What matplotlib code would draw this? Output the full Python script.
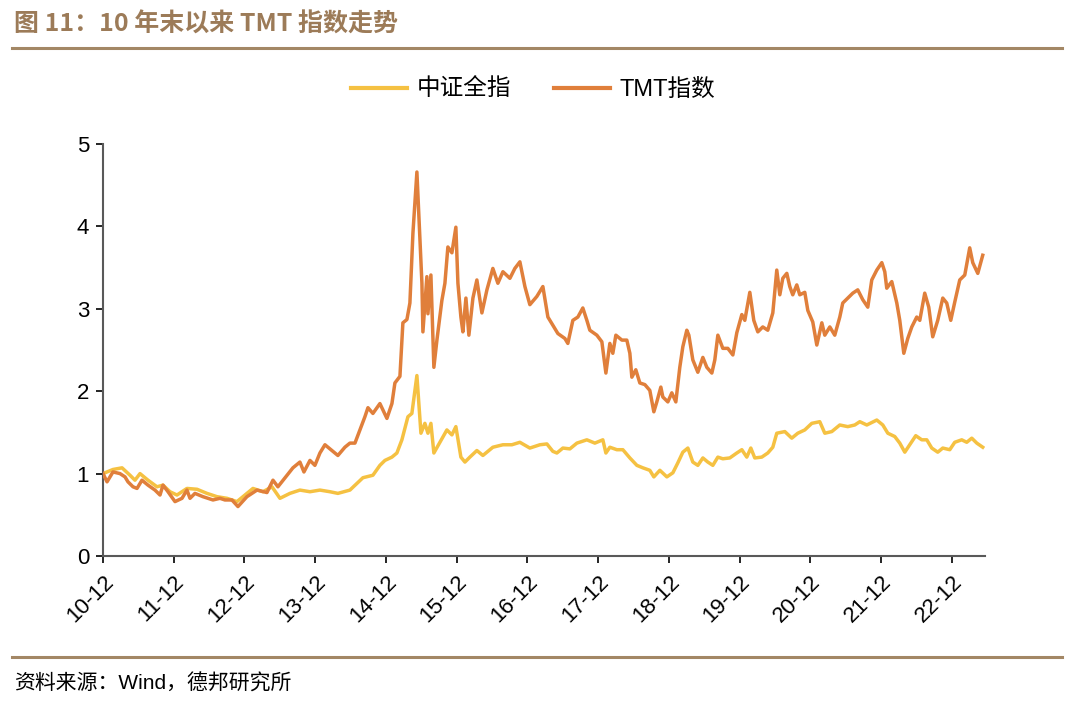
import matplotlib
matplotlib.use("Agg")
import matplotlib.pyplot as plt
from matplotlib.lines import Line2D

# ---------------- data (years since 2010-12) ----------------
tmt_t = [0.000, 0.057, 0.141, 0.240, 0.311, 0.353, 0.424, 0.481, 0.551, 0.636,
         0.735, 0.806, 0.848, 0.919, 1.018, 1.117, 1.187, 1.230, 1.300, 1.413,
         1.555, 1.654, 1.724, 1.823, 1.908, 2.035, 2.177, 2.318, 2.403, 2.473,
         2.601, 2.685, 2.784, 2.841, 2.926, 2.996, 3.067, 3.138, 3.237, 3.321,
         3.420, 3.491, 3.562, 3.632, 3.703, 3.746, 3.816, 3.915, 4.014, 4.085,
         4.127, 4.198, 4.240, 4.297, 4.339, 4.382, 4.438, 4.509, 4.523, 4.579,
         4.594, 4.636, 4.678, 4.721, 4.791, 4.834, 4.876, 4.933, 4.989, 5.018,
         5.060, 5.088, 5.131, 5.173, 5.230, 5.286, 5.357, 5.428, 5.512, 5.583,
         5.654, 5.753, 5.823, 5.894, 5.965, 6.035, 6.134, 6.219, 6.290, 6.360,
         6.431, 6.530, 6.572, 6.643, 6.714, 6.784, 6.841, 6.883, 6.982, 7.053,
         7.110, 7.166, 7.208, 7.251, 7.336, 7.406, 7.449, 7.477, 7.533, 7.590,
         7.661, 7.731, 7.788, 7.830, 7.887, 7.915, 7.986, 8.042, 8.099, 8.155,
         8.198, 8.254, 8.283, 8.339, 8.410, 8.481, 8.537, 8.608, 8.650, 8.693,
         8.763, 8.834, 8.905, 8.961, 9.032, 9.074, 9.145, 9.201, 9.258, 9.328,
         9.399, 9.470, 9.526, 9.569, 9.611, 9.668, 9.710, 9.752, 9.809, 9.851,
         9.922, 9.965, 10.035, 10.092, 10.163, 10.205, 10.276, 10.346, 10.417, 10.459,
         10.530, 10.601, 10.671, 10.742, 10.813, 10.869, 10.940, 11.011, 11.053, 11.081,
         11.152, 11.223, 11.265, 11.322, 11.378, 11.435, 11.505, 11.548, 11.618, 11.675,
         11.731, 11.802, 11.873, 11.929, 11.986, 12.042, 12.113, 12.184, 12.254, 12.297,
         12.368, 12.438]
tmt_v = [1.00, 0.90, 1.02, 1.00, 0.96, 0.90, 0.84, 0.82, 0.92, 0.86,
         0.80, 0.74, 0.86, 0.78, 0.66, 0.70, 0.80, 0.70, 0.76, 0.72,
         0.68, 0.70, 0.68, 0.68, 0.60, 0.72, 0.80, 0.77, 0.92, 0.84,
         0.98, 1.07, 1.14, 1.02, 1.16, 1.10, 1.25, 1.35, 1.28, 1.22,
         1.32, 1.37, 1.37, 1.53, 1.69, 1.80, 1.73, 1.85, 1.67, 1.85,
         2.10, 2.18, 2.83, 2.87, 3.07, 3.92, 4.66, 3.31, 2.72, 3.39,
         2.94, 3.41, 2.29, 2.62, 3.10, 3.31, 3.75, 3.68, 3.99, 3.31,
         2.90, 2.72, 3.13, 2.68, 3.13, 3.35, 2.95, 3.23, 3.49, 3.31,
         3.45, 3.37, 3.49, 3.57, 3.27, 3.05, 3.15, 3.27, 2.90, 2.80,
         2.70, 2.64, 2.58, 2.86, 2.90, 3.01, 2.86, 2.74, 2.68, 2.60,
         2.22, 2.58, 2.46, 2.68, 2.62, 2.62, 2.46, 2.17, 2.26, 2.10,
         2.08, 2.01, 1.75, 1.87, 2.05, 1.93, 1.87, 1.98, 1.87, 2.29,
         2.54, 2.74, 2.68, 2.38, 2.23, 2.41, 2.29, 2.22, 2.38, 2.68,
         2.52, 2.52, 2.44, 2.71, 2.93, 2.86, 3.20, 2.86, 2.72, 2.78,
         2.74, 2.95, 3.47, 3.17, 3.37, 3.43, 3.27, 3.17, 3.29, 3.17,
         3.20, 2.98, 2.84, 2.56, 2.83, 2.68, 2.78, 2.68, 2.90, 3.07,
         3.13, 3.19, 3.23, 3.11, 3.02, 3.35, 3.47, 3.56, 3.45, 3.25,
         3.33, 3.07, 2.86, 2.46, 2.64, 2.78, 2.90, 2.86, 3.19, 3.02,
         2.66, 2.86, 3.13, 3.07, 2.86, 3.08, 3.35, 3.41, 3.74, 3.56,
         3.43, 3.65]

csi_t = [0.000, 0.141, 0.269, 0.382, 0.452, 0.523, 0.636, 0.763, 0.848, 0.947,
         1.046, 1.187, 1.329, 1.470, 1.611, 1.753, 1.894, 2.035, 2.120, 2.261,
         2.389, 2.502, 2.643, 2.784, 2.926, 3.067, 3.208, 3.321, 3.491, 3.675,
         3.816, 3.915, 3.986, 4.085, 4.155, 4.226, 4.311, 4.367, 4.438, 4.495,
         4.551, 4.594, 4.636, 4.678, 4.763, 4.862, 4.933, 4.989, 5.060, 5.117,
         5.187, 5.286, 5.371, 5.512, 5.654, 5.781, 5.894, 6.035, 6.177, 6.276,
         6.360, 6.417, 6.502, 6.601, 6.700, 6.841, 6.954, 7.067, 7.110, 7.166,
         7.265, 7.350, 7.449, 7.548, 7.633, 7.731, 7.788, 7.873, 7.972, 8.057,
         8.127, 8.198, 8.269, 8.339, 8.410, 8.481, 8.551, 8.622, 8.693, 8.763,
         8.862, 8.961, 9.032, 9.102, 9.159, 9.215, 9.314, 9.399, 9.470, 9.526,
         9.640, 9.738, 9.823, 9.922, 10.021, 10.134, 10.205, 10.304, 10.417, 10.530,
         10.629, 10.700, 10.799, 10.940, 11.025, 11.096, 11.194, 11.265, 11.336, 11.406,
         11.491, 11.576, 11.647, 11.717, 11.802, 11.873, 11.972, 12.042, 12.141, 12.212,
         12.283, 12.354, 12.438]
csi_v = [1.00, 1.05, 1.07, 0.98, 0.92, 1.00, 0.92, 0.84, 0.86, 0.78,
         0.74, 0.82, 0.81, 0.76, 0.72, 0.70, 0.66, 0.76, 0.82, 0.78,
         0.84, 0.70, 0.76, 0.80, 0.78, 0.80, 0.78, 0.76, 0.80, 0.95,
         0.98, 1.10, 1.16, 1.20, 1.25, 1.41, 1.69, 1.73, 2.19, 1.49,
         1.61, 1.49, 1.61, 1.25, 1.38, 1.53, 1.47, 1.57, 1.20, 1.14,
         1.20, 1.28, 1.22, 1.32, 1.35, 1.35, 1.38, 1.31, 1.35, 1.36,
         1.27, 1.25, 1.31, 1.30, 1.37, 1.41, 1.37, 1.41, 1.25, 1.32,
         1.29, 1.29, 1.19, 1.10, 1.07, 1.04, 0.96, 1.04, 0.96, 1.01,
         1.13, 1.26, 1.31, 1.14, 1.10, 1.19, 1.14, 1.10, 1.20, 1.18,
         1.19, 1.25, 1.29, 1.20, 1.31, 1.19, 1.20, 1.25, 1.32, 1.49,
         1.51, 1.43, 1.49, 1.53, 1.61, 1.63, 1.49, 1.51, 1.59, 1.57,
         1.59, 1.63, 1.59, 1.65, 1.59, 1.49, 1.45, 1.37, 1.26, 1.35,
         1.46, 1.41, 1.41, 1.31, 1.26, 1.31, 1.29, 1.38, 1.41, 1.38,
         1.43, 1.37, 1.32]

x_ticks = list(range(13))
x_labels = ["10-12", "11-12", "12-12", "13-12", "14-12", "15-12", "16-12",
            "17-12", "18-12", "19-12", "20-12", "21-12", "22-12"]
y_ticks = [0, 1, 2, 3, 4, 5]
series_names = ["中证全指", "TMT指数"]
title_text = "图 11：10 年末以来 TMT 指数走势"
source_text = "资料来源：Wind，德邦研究所"

# ---------------- styling ----------------
YELLOW = "#F5C142"
ORANGE = "#E07F3B"
BROWN = "#A38765"
TITLE_C = "#9C7B58"
FONT = ["Liberation Sans", "Noto Sans CJK SC", "DejaVu Sans"]
CJK = ["Noto Sans CJK SC", "DejaVu Sans"]
plt.rcParams["font.family"] = FONT

fig = plt.figure(figsize=(10.8, 7.1), dpi=100)
ax = fig.add_axes([103 / 1080, 1 - 556 / 710, (985 - 103) / 1080, (556 - 144) / 710])

ax.plot(csi_t, csi_v, color=YELLOW, lw=2.5, solid_joinstyle="round", zorder=2)
ax.plot(tmt_t, tmt_v, color=ORANGE, lw=2.5, solid_joinstyle="round", zorder=3)

ax.set_xlim(0, 12.47)
ax.set_ylim(0, 5)
ax.set_xticks(x_ticks)
ax.set_xticklabels(x_labels, rotation=45, ha="right", rotation_mode="anchor")
ax.set_yticks(y_ticks)
ax.tick_params(axis="both", colors="#000000", direction="out", length=5, width=1.2)
ax.tick_params(axis="x", labelsize=16, pad=6)
ax.tick_params(axis="y", labelsize=16, pad=5)
for s in ["top", "right"]:
    ax.spines[s].set_visible(False)
for s in ["left", "bottom"]:
    ax.spines[s].set_color("#595959")
    ax.spines[s].set_linewidth(1.5)
for lab in ax.get_xticklabels() + ax.get_yticklabels():
    lab.set_color("#000000")

# legend
handles = [Line2D([], [], color=YELLOW, lw=3), Line2D([], [], color=ORANGE, lw=3)]
fig.legend(handles, series_names, loc="center", bbox_to_anchor=(533 / 1080, 1 - 90 / 710),
           ncol=2, frameon=False, prop={"family": FONT, "size": 17},
           handlelength=2.4, handletextpad=0.4, columnspacing=1.8)

# title and rules
fig.text(14 / 1080, 1 - 25 / 710, title_text, fontsize=18, fontweight="bold",
         color=TITLE_C, family=CJK, va="center", ha="left")
fig.add_artist(Line2D([12 / 1080, 1062 / 1080], [1 - 48 / 710, 1 - 48 / 710],
                      color=BROWN, lw=2.2))
fig.add_artist(Line2D([12 / 1080, 1062 / 1080], [1 - 657 / 710, 1 - 657 / 710],
                      color=BROWN, lw=2.2))
fig.text(14 / 1080, 1 - 684 / 710, source_text, fontsize=15, color="#000000",
         family=FONT, va="center", ha="left")

fig.savefig("out.png", dpi=100, facecolor="white")
